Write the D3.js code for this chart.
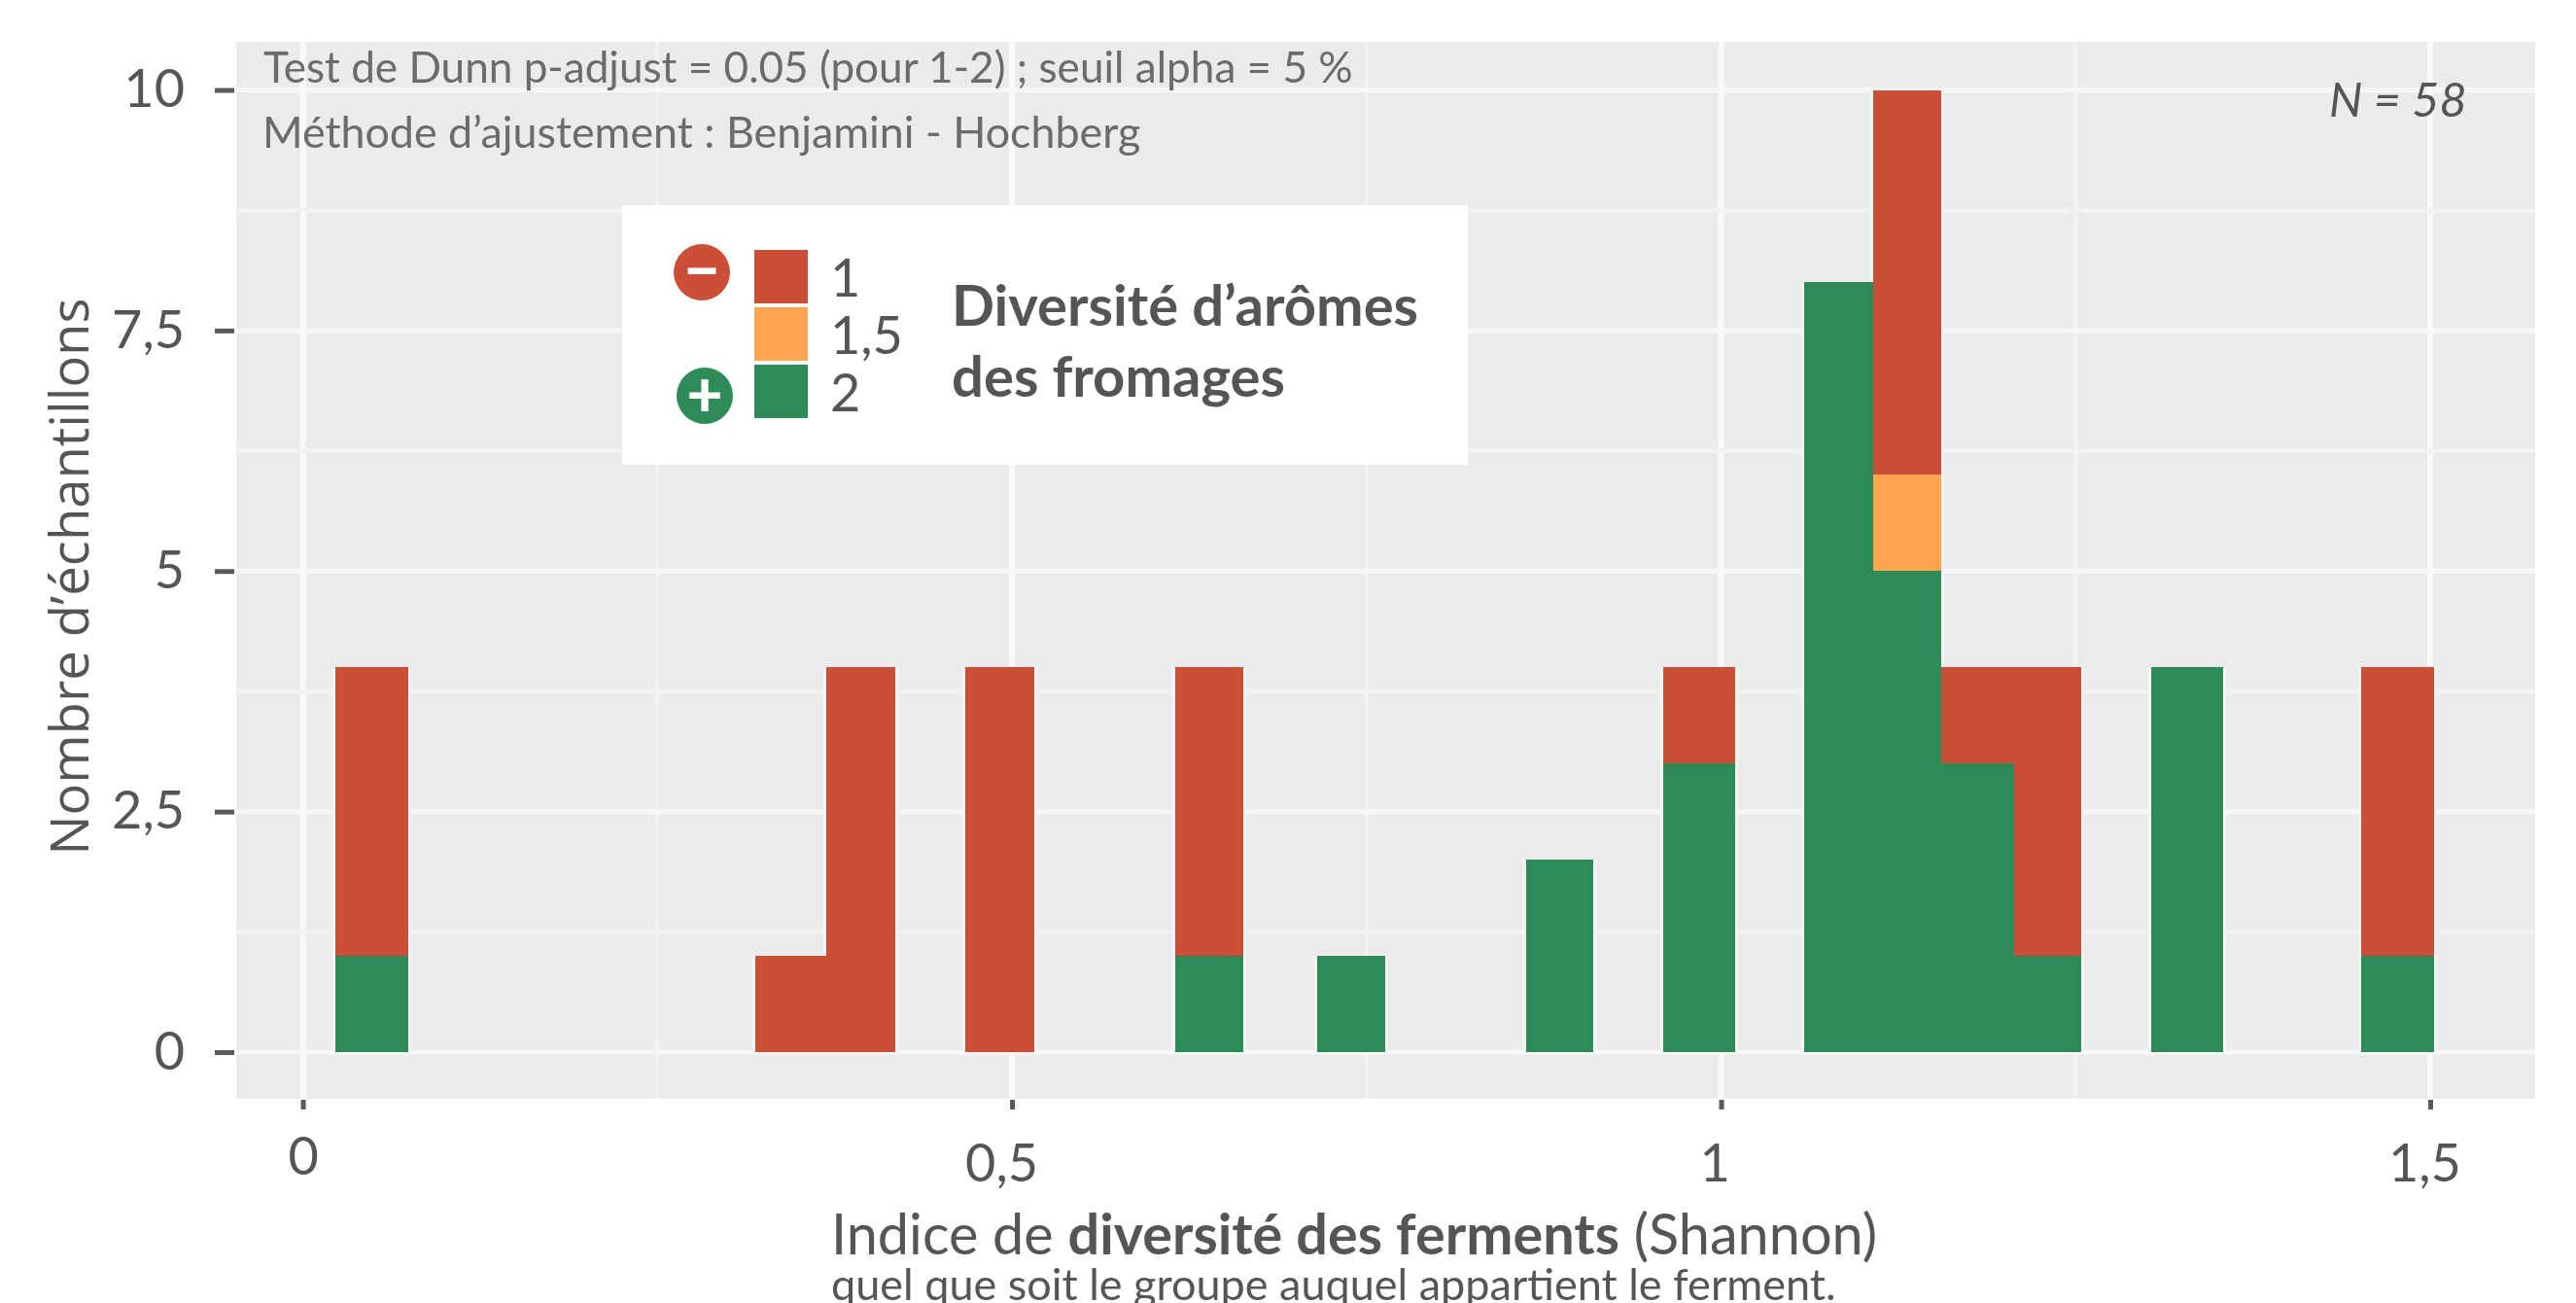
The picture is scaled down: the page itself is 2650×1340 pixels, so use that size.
<!DOCTYPE html>
<html>
<head>
<meta charset="utf-8">
<script src="https://cdn.jsdelivr.net/npm/d3@7"></script>
<style>
  html, body { margin: 0; padding: 0; background: #fff; overflow: hidden; }
  svg { display: block; filter: blur(0.7px); }
  text { font-family: Lato, "Open Sans", sans-serif; }
</style>
</head>
<body>
<div id="chart"></div>
<script>
// histogram bins (Shannon index)
const binStart = [0.023, 0.319, 0.369, 0.467, 0.615, 0.715, 0.8625, 0.959, 1.0585, 1.107, 1.155, 1.2066, 1.303, 1.4516]
const binEnd = [0.074, 0.369, 0.418, 0.516, 0.663, 0.763, 0.910, 1.010, 1.107, 1.155, 1.2066, 1.254, 1.354, 1.503]

// counts per aroma diversity group, stacked green / orange / red
const countGreen = [1, 0, 0, 0, 1, 1, 2, 3, 8, 5, 3, 1, 4, 1]
const countOrange = [0, 0, 0, 0, 0, 0, 0, 0, 0, 1, 0, 0, 0, 0]
const countRed = [3, 1, 4, 4, 3, 0, 0, 1, 0, 4, 1, 3, 0, 3]

const groups = ["2", "1,5", "1"]
const groupColors = ["#2E8B57", "#FFA54F", "#CC4E38"]

const xTicks = [0, 0.5, 1, 1.5]
const xMinor = [0.25, 0.75, 1.25]
const yTicks = [0, 2.5, 5, 7.5, 10]
const yMinor = [1.25, 3.75, 6.25, 8.75]

const frNum = d => String(d).replace(".", ",")

const width = 2650
const height = 1340
const panel = { left: 243, right: 2608, top: 43, bottom: 1130 }

const x = d3.scaleLinear().domain([0, 1.5]).range([311.6, 2500])
const y = d3.scaleLinear().domain([0, 10]).range([1082, 92.5])

const svg = d3.select("#chart").append("svg")
  .attr("width", width)
  .attr("height", height)

svg.append("rect")
  .attr("x", panel.left)
  .attr("y", panel.top)
  .attr("width", panel.right - panel.left)
  .attr("height", panel.bottom - panel.top)
  .attr("fill", "#EBEBEB")

// grid
const grid = svg.append("g").attr("fill", "none")
grid.selectAll(".gx").data(xTicks.concat(xMinor)).join("line")
  .attr("x1", d => x(d)).attr("x2", d => x(d))
  .attr("y1", panel.top).attr("y2", panel.bottom)
  .attr("stroke", d => xTicks.includes(d) ? "#f9f9f9" : "#f3f3f3")
  .attr("stroke-width", d => xTicks.includes(d) ? 6 : 4)
grid.selectAll(".gy").data(yTicks.concat(yMinor)).join("line")
  .attr("x1", panel.left).attr("x2", panel.right)
  .attr("y1", d => y(d)).attr("y2", d => y(d))
  .attr("stroke", d => yTicks.includes(d) ? "#f7f7f7" : "#f2f2f2")
  .attr("stroke-width", d => yTicks.includes(d) ? 5 : 4)

// stacked bars
const rows = binStart.map((d, i) => ({ x0: d, x1: binEnd[i], "2": countGreen[i], "1,5": countOrange[i], "1": countRed[i] }))
const stack = d3.stack().keys(groups)(rows)

// pale halo left by the image resampling
svg.append("g").selectAll("rect")
  .data(rows)
  .join("rect")
    .attr("x", d => x(d.x0) - 3)
    .attr("width", d => x(d.x1) - x(d.x0) + 6)
    .attr("y", d => y(d["2"] + d["1,5"] + d["1"]))
    .attr("height", d => y(0) - y(d["2"] + d["1,5"] + d["1"]))
    .attr("fill", "#f5f5f5")

svg.append("g").attr("shape-rendering", "crispEdges").selectAll("g")
  .data(stack)
  .join("g")
    .attr("fill", (d, i) => groupColors[i])
  .selectAll("rect")
  .data(d => d.filter(s => s[1] > s[0]))
  .join("rect")
    .attr("x", d => x(d.data.x0))
    .attr("width", d => x(d.data.x1) - x(d.data.x0))
    .attr("y", d => y(d[1]))
    .attr("height", d => y(d[0]) - y(d[1]))

// axes
const yAxis = svg.append("g")
  .attr("transform", `translate(${panel.left - 2},0)`)
  .call(d3.axisLeft(y).tickValues(yTicks).tickFormat(frNum).tickSize(20).tickPadding(31))
yAxis.select(".domain").remove()
yAxis.selectAll("line").attr("stroke", "#5a5a5a").attr("stroke-width", 5)
yAxis.selectAll("text").attr("fill", "#555").style("font-size", "54px").style("font-family", "Lato")

// the x labels sit a little off their ticks in the original
const xLabelShift = [[0, -5], [-11, 2], [-7, 2], [-6, 2]]
const xAxis = svg.append("g")
  .attr("transform", `translate(0,${panel.bottom + 1})`)
  .call(d3.axisBottom(x).tickValues(xTicks).tickFormat(frNum).tickSize(10).tickPadding(34))
xAxis.select(".domain").remove()
xAxis.selectAll("line").attr("stroke", "#5a5a5a").attr("stroke-width", 5)
xAxis.selectAll("text")
  .attr("fill", "#555")
  .style("font-size", "54px")
  .style("font-family", "Lato")
  .attr("transform", (d, i) => `translate(${xLabelShift[i][0]},${xLabelShift[i][1]})`)

// y title
svg.append("text")
  .attr("transform", "translate(91,593) rotate(-90)")
  .attr("text-anchor", "middle")
  .attr("fill", "#555")
  .style("font-family", "'Open Sans'")
  .style("font-size", "54.4px")
  .text("Nombre d’échantillons")

// x title
const xTitle = svg.append("text")
  .attr("x", 855).attr("y", 1290)
  .attr("fill", "#555")
  .style("font-size", "57.6px")
xTitle.append("tspan").text("Indice de ")
xTitle.append("tspan").attr("font-weight", 700).text("diversité des ferments")
xTitle.append("tspan").text(" (Shannon)")

svg.append("text")
  .attr("x", 855).attr("y", 1337)
  .attr("fill", "#555")
  .style("font-size", "45px")
  .text("quel que soit le groupe auquel appartient le ferment.")

// notes
svg.append("text").attr("x", 271).attr("y", 85)
  .attr("fill", "#6b6b6b").style("font-size", "44.1px")
  .text("Test de Dunn p-adjust = 0.05 (pour 1-2) ; seuil alpha = 5 %")
svg.append("text").attr("x", 270).attr("y", 152)
  .attr("fill", "#6b6b6b").style("font-size", "44.8px")
  .text("Méthode d’ajustement : Benjamini - Hochberg")
svg.append("text").attr("x", 2396).attr("y", 120)
  .attr("fill", "#555").attr("font-style", "italic").style("font-size", "48.5px")
  .text("N = 58")

// legend
const legend = svg.append("g")
legend.append("rect")
  .attr("x", 640).attr("y", 211).attr("width", 870).attr("height", 267)
  .attr("fill", "#fff")

const legendGroups = ["1", "1,5", "2"]
const legendColors = ["#CC4E38", "#FFA54F", "#2E8B57"]
const swatchY = d3.scalePoint().domain(legendGroups).range([257, 375])

legend.selectAll(".swatch").data(legendGroups).join("rect")
  .attr("x", 776).attr("y", d => swatchY(d))
  .attr("width", 55).attr("height", 55)
  .attr("fill", (d, i) => legendColors[i])
legend.selectAll(".lab").data(legendGroups).join("text")
  .attr("x", 854).attr("y", d => swatchY(d) + 48)
  .attr("fill", "#555").style("font-size", "54px")
  .text(d => d)

const signs = [["−", 722, 280, "#CC4E38"], ["+", 725, 407, "#2E8B57"]]
legend.selectAll(".sign").data(signs).join("circle")
  .attr("cx", d => d[1]).attr("cy", d => d[2]).attr("r", 29)
  .attr("fill", d => d[3])
legend.selectAll(".signtxt").data(signs).join("text")
  .attr("x", d => d[1]).attr("y", d => d[2] + 21)
  .attr("text-anchor", "middle")
  .attr("fill", "#fff").attr("font-weight", 900).style("font-size", "64px")
  .text(d => d[0])

legend.append("text").attr("x", 979).attr("y", 335)
  .attr("fill", "#555").attr("font-weight", 700).style("font-size", "58px")
  .text("Diversité d’arômes")
legend.append("text").attr("x", 979).attr("y", 408)
  .attr("fill", "#555").attr("font-weight", 700).style("font-size", "58px")
  .text("des fromages")
</script>
</body>
</html>
